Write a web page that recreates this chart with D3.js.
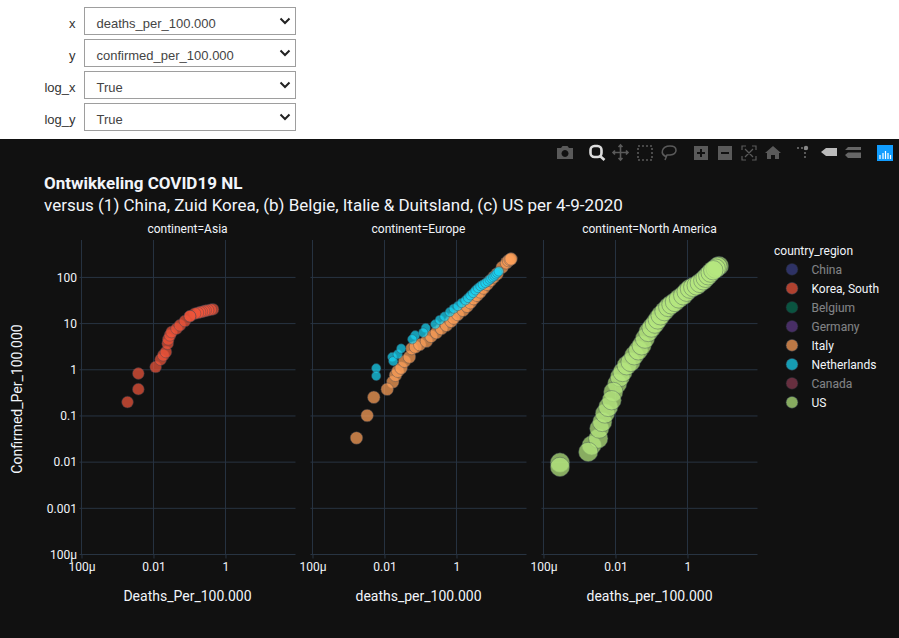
<!DOCTYPE html>
<html>
<head>
<meta charset="utf-8">
<script src="https://cdn.jsdelivr.net/npm/d3@7"></script>
<style>
  html, body { margin: 0; padding: 0; background: #fff; }
  svg { display: block; }
</style>
</head>
<body>
<svg id="chart" width="899" height="638"></svg>
<script>
// values
var controlLabels = ["x", "y", "log_x", "log_y"];
var controlValues = ["deaths_per_100.000", "confirmed_per_100.000", "True", "True"];

var panelNames = ["continent=Asia", "continent=Europe", "continent=North America"];
var panelXTitles = ["Deaths_Per_100.000", "deaths_per_100.000", "deaths_per_100.000"];

var xTicks = [0.0001, 0.01, 1];
var xTickLabels = ["100µ", "0.01", "1"];
var yTicks = [0.0001, 0.001, 0.01, 0.1, 1, 10, 100];
var yTickLabels = ["100µ", "0.001", "0.01", "0.1", "1", "10", "100"];

var legendNames = ["China", "Korea, South", "Belgium", "Germany", "Italy", "Netherlands", "Canada", "US"];
var legendColors = ["#636efa", "#ef553b", "#00cc96", "#ab63fa", "#ffa15a", "#19d3f3", "#ff6692", "#b6e880"];
var legendShown = [false, true, false, false, true, true, false, true];

var koreaDeaths = [0.0019, 0.0038, 0.0038, 0.0115, 0.0158, 0.0187, 0.0222, 0.0248, 0.0258, 0.0287, 0.032, 0.044, 0.0545, 0.075, 0.45, 0.39, 0.327, 0.28, 0.253, 0.22, 0.196, 0.17, 0.142, 0.103, 0.103];
var koreaConfirmed = [0.2, 0.38, 0.83, 1.15, 1.66, 2.06, 2.43, 3.69, 4.57, 5.58, 6.58, 7.8, 9.2, 11.4, 20.4, 20, 19.4, 19, 18.5, 18, 17.6, 17, 16.5, 14.4, 14.5];

var italyDeaths = [0.00167, 0.0033, 0.00505, 0.017, 0.0202, 0.0234, 0.0291, 0.036, 0.0494, 0.0575, 0.0119, 0.0726, 0.0957, 0.147, 0.198, 0.278, 0.383, 0.527, 0.713, 0.841, 1.09, 1.53, 1.98, 2.45, 3.03, 3.76, 4.64, 5.73, 7.13, 8.8, 10.9, 13.5, 18.6, 24.5, 28, 31, 33];
var italyConfirmed = [0.0334, 0.102, 0.254, 0.545, 0.76, 0.93, 1.09, 1.53, 1.89, 2.88, 0.378, 3.12, 3.51, 4.14, 5.3, 6.38, 7.8, 9.2, 11.2, 13.2, 15.7, 19.4, 23.7, 28.4, 34.8, 41, 48.5, 59, 71, 86, 102, 120, 166, 207, 232, 245, 252];

var nlDeaths = [0.0059, 0.0059, 0.0164, 0.0175, 0.0234, 0.0291, 0.0713, 0.0589, 0.14, 0.119, 0.256, 0.344, 0.465, 0.652, 0.841, 1.09, 1.4, 1.78, 2.1, 2.45, 2.9, 3.37, 3.95, 4.64, 5.4, 6.4, 7.4, 8.41, 9.3, 10.4, 11.4, 12.4, 13.6, 15];
var nlConfirmed = [1.08, 0.735, 1.89, 1.53, 2.17, 2.88, 5.58, 4.57, 8.03, 6.38, 9.66, 12, 14.2, 17.8, 21.1, 24, 28, 31.9, 36, 41, 46, 52.6, 59, 65.2, 70, 75.7, 82, 89.5, 96, 102, 109, 117, 126, 135];

var usDeaths = [0.000287, 0.000287, 0.00218, 0.00333, 0.00355, 0.0043, 0.0051, 0.00175, 0.0063, 0.0112, 0.0133, 0.00869, 0.0158, 0.0205, 0.0264, 0.0333, 0.043, 0.0535, 0.00783, 0.0661, 0.0815, 0.101, 0.125, 0.15, 0.18, 0.23, 0.293, 0.36, 0.45, 0.58, 0.764, 0.95, 1.17, 1.45, 1.8, 2.2, 2.75, 3.2, 3.78, 4.4, 7.5, 6.8, 6.07, 5.2];
var usConfirmed = [0.0098, 0.00787, 0.0232, 0.0324, 0.0533, 0.0741, 0.113, 0.0166, 0.157, 0.502, 0.698, 0.331, 0.895, 1.25, 1.48, 2.06, 2.64, 3.39, 0.219, 4.73, 6.58, 8.2, 10, 12.3, 15.1, 18.6, 22.9, 26, 29.4, 35, 41, 49, 57, 62, 67, 76, 86.5, 98, 111, 127, 177, 170, 155, 143];

var panelSeries = [
  [{x: koreaDeaths, y: koreaConfirmed, color: "#ef553b", r: 5.9}],
  [{x: italyDeaths, y: italyConfirmed, color: "#ffa15a", r: 6.3},
   {x: nlDeaths, y: nlConfirmed, color: "#19d3f3", r: 4.7}],
  [{x: usDeaths, y: usConfirmed, color: "#b6e880", r: 9.7}]
];

var panelLefts = [79.5, 310.5, 541.5];
var panelWidth = 216;
var panelTop = 240;
var panelBottom = 554.5;
var gridColor = "#283442";
var textColor = "#f2f5fa";
var plotFont = "Roboto, sans-serif";

var svg = d3.select("#chart");

// dropdown row above the plot
var controlRows = svg.append("g").selectAll("g").data(controlLabels).enter().append("g")
  .attr("transform", function(d, i) { return "translate(0," + (7.5 + i * 32) + ")"; });

controlRows.append("text")
  .attr("x", 75.5).attr("y", 20)
  .attr("text-anchor", "end")
  .style("font", "13px 'Liberation Sans', sans-serif")
  .style("fill", "#333")
  .text(function(d) { return d; });

controlRows.append("rect")
  .attr("x", 84.5).attr("y", 0).attr("width", 211).attr("height", 27)
  .style("fill", "#fff").style("stroke", "#9e9e9e");

controlRows.append("text")
  .attr("x", 96.5).attr("y", 20)
  .style("font", "13px 'Liberation Sans', sans-serif")
  .style("fill", "#444")
  .text(function(d, i) { return controlValues[i]; });

controlRows.append("path")
  .attr("d", "M280.5 11 L285 15.5 L289.5 11")
  .style("fill", "none").style("stroke", "#222").style("stroke-width", 2);

svg.append("rect")
  .attr("x", 0).attr("y", 139).attr("width", 899).attr("height", 499)
  .style("fill", "#111");

// modebar
var bar = svg.append("g").style("fill", "#5a5a5a").style("stroke", "none");
bar.append("path").attr("fill-rule", "evenodd")
  .attr("d", "M557 148 h4 l1.5 -2 h5 l1.5 2 h4 v11 h-16 z M565 150 a3.5 3.5 0 1 0 0.01 0 z");
bar.append("rect").attr("x", 590.5).attr("y", 146).attr("width", 11).attr("height", 11).attr("rx", 4)
  .style("fill", "none").style("stroke", "#ddd").style("stroke-width", 2.6);
bar.append("path").attr("d", "M600 156 L604.5 160").style("stroke", "#ddd").style("stroke-width", 2.6);
bar.append("path").style("stroke", "#5a5a5a").style("stroke-width", 1.6).style("fill", "none")
  .attr("d", "M620.5 145 V160 M613 152.5 H628 M618.5 147 L620.5 145 L622.5 147 M618.5 158 L620.5 160 L622.5 158 M615 150.5 L613 152.5 L615 154.5 M626 150.5 L628 152.5 L626 154.5");
bar.append("rect").attr("x", 638).attr("y", 146).attr("width", 14).attr("height", 14)
  .style("fill", "none").style("stroke", "#5a5a5a").style("stroke-width", 1.6).style("stroke-dasharray", "2 2");
bar.append("path").style("stroke", "#5a5a5a").style("stroke-width", 1.5).style("fill", "none")
  .attr("d", "M667 157 C659 154 662 146 670 146 C678 146 678 154 670 155 L667 155 L665 160");
bar.append("path").attr("fill-rule", "evenodd")
  .attr("d", "M694 146 h14 v14 h-14 z M700 149 v3 h-3 v2 h3 v3 h2 v-3 h3 v-2 h-3 v-3 z");
bar.append("path").attr("fill-rule", "evenodd")
  .attr("d", "M718 146 h14 v14 h-14 z M721 152 v2 h8 v-2 z");
bar.append("path").style("stroke", "#5a5a5a").style("stroke-width", 1.2).style("fill", "none")
  .attr("d", "M742 150 v-4 h4 M752 146 h4 v4 M756 156 v4 h-4 M746 160 h-4 v-4 M745 149 L753 157 M753 149 L745 157");
bar.append("path").attr("d", "M773 146 L781 153 H779 V159 H775 V155 H771 V159 H767 V153 H765 Z");
bar.append("path").style("stroke", "#777").style("stroke-width", 1.4).style("fill", "none").style("stroke-dasharray", "2 2")
  .attr("d", "M797 148 H805 V159");
bar.append("circle").attr("cx", 806).attr("cy", 148).attr("r", 2.2).style("fill", "#888");
bar.append("path").style("fill", "#bbb").attr("d", "M821 152 L826 148 H837 V156 H826 Z");
bar.append("path").attr("d", "M845 150 L848 147 H861 V150 Z M845 155 L848 152.500 H861 V158 H848 Z").style("fill", "#666");
bar.append("rect").attr("x", 877).attr("y", 145).attr("width", 16).attr("height", 16).style("fill", "#119dff");
bar.append("path").style("stroke", "#fff").style("stroke-width", 1.2)
  .attr("d", "M880 155 V159 M883 153 V159 M885.500 151 V159 M888 153 V159 M890.500 155 V159");

// titles
svg.append("text").attr("x", 44).attr("y", 189)
  .style("font", "bold 17px " + plotFont).style("fill", textColor)
  .text("Ontwikkeling COVID19 NL");
svg.append("text").attr("x", 44).attr("y", 211)
  .style("font", "17px " + plotFont).style("fill", textColor)
  .text("versus (1) China, Zuid Korea, (b) Belgie, Italie & Duitsland, (c) US per 4-9-2020");

var y = d3.scaleLog()
  .domain([0.0001, Math.pow(10, 2.81)])
  .range([panelBottom, panelTop]);

var panels = svg.selectAll("g.panel").data(panelNames).enter().append("g")
  .attr("class", "panel")
  .attr("transform", function(d, i) { return "translate(" + panelLefts[i] + ",0)"; });

panels.each(function(name, i) {
  var g = d3.select(this);
  var x = d3.scaleLog()
    .domain([Math.pow(10, -4.055), Math.pow(10, 1.945)])
    .range([0, panelWidth]);

  g.selectAll("line.gx").data(xTicks).enter().append("line")
    .attr("class", "gx")
    .attr("x1", x).attr("x2", x)
    .attr("y1", panelTop).attr("y2", panelBottom)
    .style("stroke", gridColor);

  g.selectAll("line.gy").data(yTicks).enter().append("line")
    .attr("class", "gy")
    .attr("x1", 0).attr("x2", panelWidth)
    .attr("y1", y).attr("y2", y)
    .style("stroke", gridColor);

  var xAxis = d3.axisBottom(x)
    .tickValues(xTicks)
    .tickSize(4)
    .tickPadding(4)
    .tickFormat(function(d, k) { return xTickLabels[k]; });

  var xg = g.append("g").attr("transform", "translate(0," + panelBottom + ")").call(xAxis);
  xg.select(".domain").remove();
  xg.selectAll("line").style("stroke", gridColor);
  xg.selectAll("text").style("font", "12px " + plotFont).style("fill", textColor);

  if (i == 0) {
    var yAxis = d3.axisLeft(y)
      .tickValues(yTicks)
      .tickSize(0)
      .tickPadding(2.5)
      .tickFormat(function(d, k) { return yTickLabels[k]; });
    var yg = g.append("g").call(yAxis);
    yg.select(".domain").remove();
    yg.selectAll("text").style("font", "12px " + plotFont).style("fill", textColor);
  }

  g.append("text")
    .attr("x", panelWidth / 2).attr("y", 233)
    .attr("text-anchor", "middle")
    .style("font", "12px " + plotFont).style("fill", textColor)
    .text(name);

  g.append("text")
    .attr("x", panelWidth / 2).attr("y", 601)
    .attr("text-anchor", "middle")
    .style("font", "14px " + plotFont).style("fill", textColor)
    .text(panelXTitles[i]);

  panelSeries[i].forEach(function(s) {
    g.append("g").selectAll("circle").data(s.x).enter().append("circle")
      .attr("cx", function(d) { return x(d); })
      .attr("cy", function(d, k) { return y(s.y[k]); })
      .attr("r", s.r)
      .style("fill", s.color)
      .style("stroke", "#3a4656")
      .style("stroke-width", 1)
      .style("stroke-opacity", 0.5)
      .style("opacity", 0.72);
  });
});

svg.append("text")
  .attr("transform", "translate(21.500,399) rotate(-90)")
  .attr("text-anchor", "middle")
  .style("font", "14px " + plotFont).style("fill", textColor)
  .text("Confirmed_Per_100.000");

// legend
svg.append("text").attr("x", 774).attr("y", 255)
  .style("font", "12px " + plotFont).style("fill", textColor)
  .text("country_region");

var legendRows = svg.append("g").selectAll("g").data(legendNames).enter().append("g")
  .attr("transform", function(d, i) { return "translate(0," + (269.3 + i * 19) + ")"; })
  .style("opacity", function(d, i) { return legendShown[i] ? 1 : 0.5; });

legendRows.append("circle")
  .attr("cx", 792).attr("cy", 0).attr("r", 5.9)
  .style("fill", function(d, i) { return legendColors[i]; })
  .style("fill-opacity", 0.72)
  .style("stroke", "#3a4656")
  .style("stroke-width", 1)
  .style("stroke-opacity", 0.5);

legendRows.append("text")
  .attr("x", 811.5).attr("y", 4.5)
  .style("font", "12px " + plotFont).style("fill", textColor)
  .text(function(d) { return d; });
</script>
</body>
</html>
